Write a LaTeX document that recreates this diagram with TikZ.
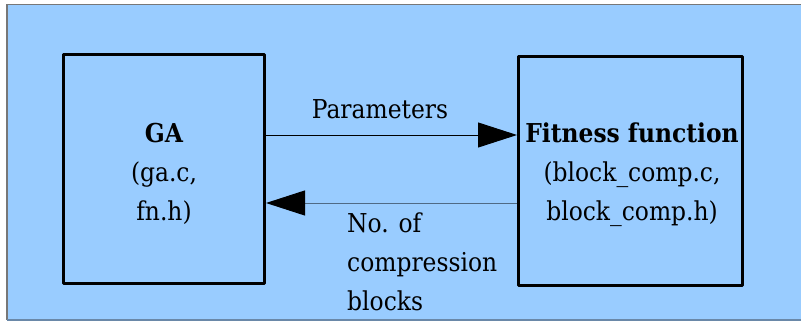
\documentclass[tikz,border=0pt]{standalone}
\usepackage{fontspec}
\setmainfont{DejaVu Serif Condensed}
\usetikzlibrary{arrows.meta}

\definecolor{bgblue}{HTML}{99CCFF}
\definecolor{framegray}{HTML}{777777}
\definecolor{frameslate}{HTML}{6A88A8}
\definecolor{lineslate}{HTML}{4F6A85}

\tikzset{
  blockbox/.style={draw, line width=3pt, line join=round, inner sep=0pt},
  blocktext/.style={align=center, font=\fontsize{26}{39}\selectfont},
  flowtext/.style={align=left, inner sep=0pt, font=\fontsize{26}{39}\selectfont},
  flow/.style={-{Triangle[length=39pt,width=25pt,color=black]}, line width=1pt},
}

\begin{document}
\begin{tikzpicture}[x=1pt,y=-1pt]
    \useasboundingbox (0,0) rectangle (801,321);
    \fill[bgblue] (7,4.5) rectangle (820,320);
    \draw[framegray, line width=1.5pt] (820,4.5) -- (7,4.5) -- (7,320);
    \draw[frameslate, line width=1.5pt] (7,320) -- (820,320);
%%   kw   (name)   (x, y)   {text}
    \node[blockbox, minimum width=201pt, minimum height=229pt] (ga) at (164,169) {};
    \node[blockbox, minimum width=224pt, minimum height=229pt] (fit) at (630.5,171) {};
    \node[blocktext, yshift=-4.75pt] (gatext) at (ga.center) {\textbf{GA}\\(ga.c,\\fn.h)};
    \node[blocktext, yshift=-4pt, xshift=1.5pt] (fittext) at (fit.center) {\textbf{Fitness function}\\(block\_comp.c,\\block\_comp.h)};
    \coordinate (parout) at ([yshift=34pt]ga.east);
    \coordinate (nbin) at ([yshift=-34pt]ga.east);
    \draw[flow] (parout) -- (parout -| fit.west);
    \draw[flow, lineslate] (nbin -| fit.west) -- (nbin);
    \node[flowtext, anchor=base] (partext) at (380,118) {Parameters};
    \node[flowtext, anchor=north west] (nbtext) at (347,212.5) {No. of\\compression\\blocks};
\end{tikzpicture}
\end{document}
